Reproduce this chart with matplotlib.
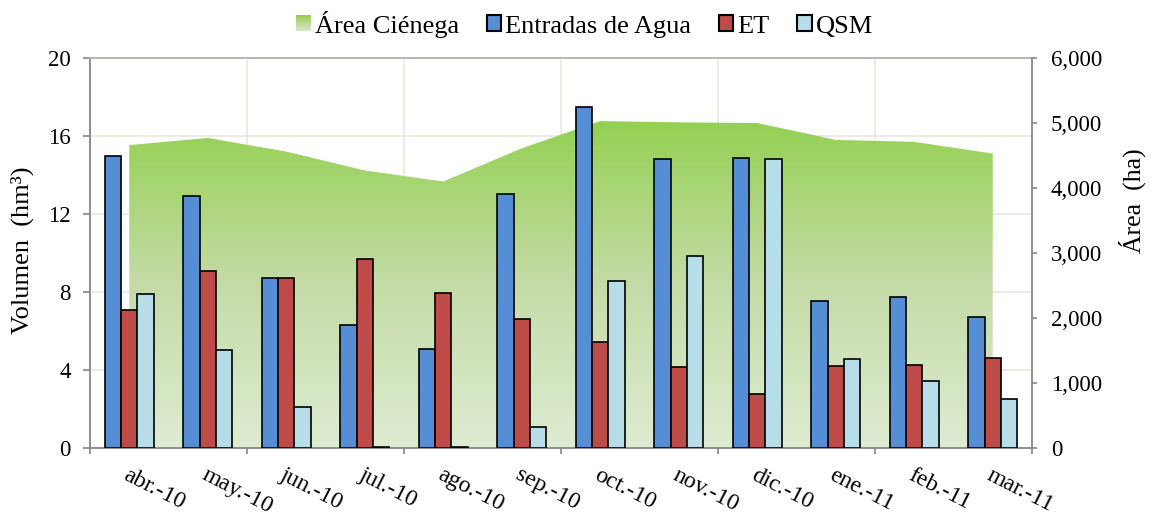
import numpy as np
import matplotlib
matplotlib.use('Agg')
import matplotlib.pyplot as plt
from matplotlib.patches import Patch, Rectangle
from matplotlib.colors import LinearSegmentedColormap
from matplotlib.legend_handler import HandlerBase
from matplotlib.ticker import FuncFormatter

plt.rcParams['font.family'] = ['Liberation Serif', 'DejaVu Serif']

# Balance hídrico mensual de la ciénega
meses = ['abr.-10', 'may.-10', 'jun.-10', 'jul.-10', 'ago.-10', 'sep.-10',
         'oct.-10', 'nov.-10', 'dic.-10', 'ene.-11', 'feb.-11', 'mar.-11']
entradas = [15.0, 12.9, 8.7, 6.3, 5.1, 13.0, 17.5, 14.8, 14.85, 7.55, 7.75, 6.7]   # hm3
et = [7.1, 9.1, 8.7, 9.7, 7.95, 6.6, 5.45, 4.15, 2.75, 4.2, 4.25, 4.6]             # hm3
qsm = [7.9, 5.05, 2.1, 0.03, 0.03, 1.1, 8.55, 9.85, 14.8, 4.55, 3.45, 2.5]        # hm3
area = [4660, 4770, 4560, 4270, 4100, 4610, 5030, 5010, 5000, 4740, 4710, 4530]   # ha

azul = '#558ED5'
rojo = '#BE4B48'
celeste = '#B7DEE8'
gris = '#868686'
rejilla = '#EAE7DF'
verde = LinearSegmentedColormap.from_list('verde', ['#DEECD2', '#C4DBA6', '#92D050'])


class HandlerDegradado(HandlerBase):
    # cuadro de leyenda con el mismo degradado del area
    def create_artists(self, legend, orig_handle, xdescent, ydescent, width, height,
                       fontsize, trans):
        n = 12
        h = height / n
        rects = []
        for i in range(n):
            r = Rectangle((-xdescent, -ydescent + i * h), width, h * 1.05,
                          facecolor=verde(0.15 + 0.85 * (i + 0.5) / n),
                          edgecolor='none', transform=trans)
            rects.append(r)
        return rects


fig = plt.figure(figsize=(11.51, 5.17), dpi=100)
ax = fig.add_axes([0.0782, 0.1335, 0.8184, 0.7543])
ax2 = ax.twinx()

x = np.arange(len(meses))
ax.set_xlim(-0.5, len(meses) - 0.5)
ax.set_ylim(0, 20)
ax2.set_ylim(0, 6000)

# area de la cienega (eje derecho) con degradado verde, detras de las barras
poly = ax.fill_between(x, 0, area, transform=ax2.transData,
                       facecolor='none', edgecolor='none', zorder=1)
grad = np.linspace(0, 1, 256).reshape(-1, 1)
img = ax.imshow(grad, extent=[-0.5, len(meses) - 0.5, 0, 17], origin='lower',
                aspect='auto', cmap=verde, zorder=1, interpolation='bicubic')
img.set_clip_path(poly.get_paths()[0], poly.get_transform())
ax.set_xlim(-0.5, len(meses) - 0.5)
ax.set_ylim(0, 20)

# barras
w = 0.208
ax.bar(x - w, entradas, w, color=azul, edgecolor='black', linewidth=1.2, zorder=3)
ax.bar(x, et, w, color=rojo, edgecolor='black', linewidth=1.2, zorder=3)
ax.bar(x + w, qsm, w, color=celeste, edgecolor='black', linewidth=1.2, zorder=3)

# rejilla
ax.set_yticks(np.arange(0, 21, 4))
ax.yaxis.grid(True, color=rejilla, linewidth=1.2, zorder=0.5)
ax.set_axisbelow(True)
ax.vlines(np.arange(1.5, len(meses) - 1, 2), 0, 20, color=rejilla, linewidth=1.2, zorder=0.5)

# ejes
for lado in ['left', 'bottom']:
    ax.spines[lado].set_color(gris)
    ax.spines[lado].set_linewidth(1.3)
ax.spines['right'].set_visible(False)
ax.spines['top'].set_color('#B5B2A8')
ax.spines['top'].set_linewidth(1.3)
for lado in ['left', 'top', 'bottom']:
    ax2.spines[lado].set_visible(False)
ax2.spines['right'].set_color(gris)
ax2.spines['right'].set_linewidth(1.3)

ax.set_xticks(x)
ax.set_xticklabels(meses, rotation=-27, ha='left', va='top', rotation_mode='anchor')
ax.set_xticks(np.arange(-0.5, len(meses), 2), minor=True)
ax.tick_params(axis='x', which='major', length=0, labelsize=17, pad=12)
ax.tick_params(axis='x', which='minor', length=4.5, color=gris, width=1.2)
ax.tick_params(axis='y', length=5, color=gris, width=1.2, labelsize=16.5, pad=9)

ax2.set_yticks(np.arange(0, 6001, 1000))
ax2.yaxis.set_major_formatter(FuncFormatter(lambda v, p: f'{v:,.0f}'))
ax2.tick_params(axis='y', length=3.5, color=gris, width=1.2, labelsize=16.5, pad=10)

# titulos de los ejes
fig.text(22.5 / 1151, 1 - 250 / 517, 'Volumen  (hm³)', rotation=90, fontsize=19,
         ha='center', va='center')
fig.text(1132 / 1151, 1 - 201 / 517, 'Área  (ha)', rotation=90, fontsize=18.5,
         ha='center', va='center')

# leyenda
handles = [Patch(facecolor='#A9D77F', edgecolor='none'),
           Patch(facecolor=azul, edgecolor='black', linewidth=1.5),
           Patch(facecolor=rojo, edgecolor='black', linewidth=1.5),
           Patch(facecolor=celeste, edgecolor='black', linewidth=1.5)]
labels = ['Área Ciénega', 'Entradas de Agua', 'ET', 'QSM']
fig.legend(handles, labels, loc='upper center', bbox_to_anchor=(0.508, 1.005), ncol=4,
           frameon=False, fontsize=19, handlelength=0.55, handleheight=0.55,
           handletextpad=0.15, columnspacing=1.05, borderaxespad=0.1,
           handler_map={handles[0]: HandlerDegradado()})

fig.savefig('out.png', dpi=100)
